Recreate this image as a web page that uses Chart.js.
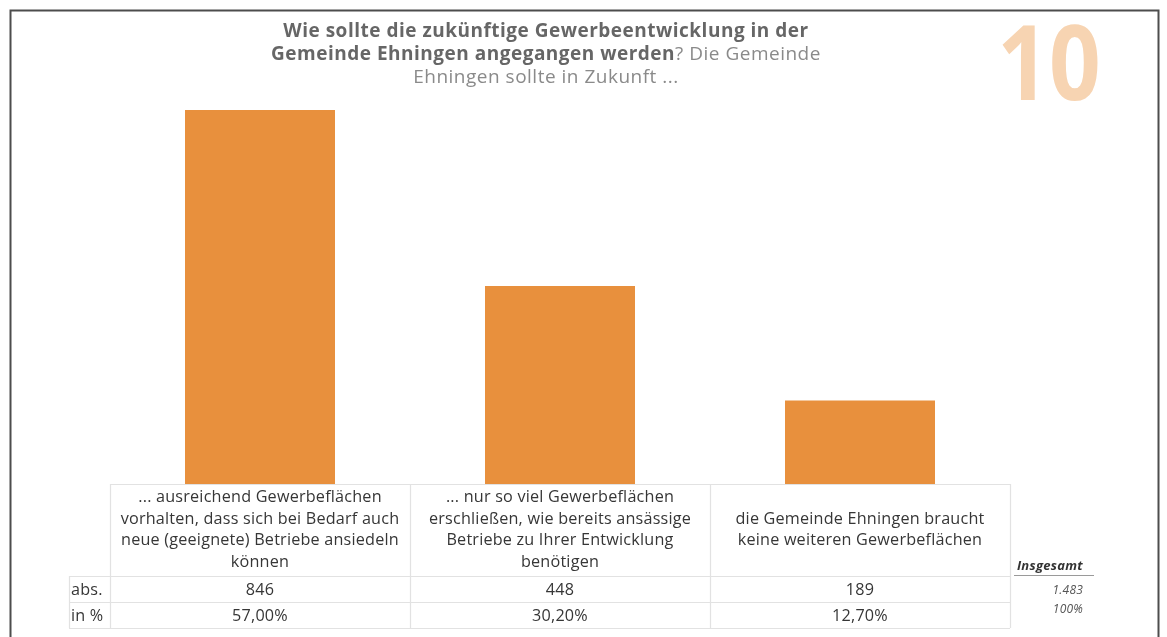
<!DOCTYPE html>
<html>
<head>
<meta charset="utf-8">
<script src="https://cdn.jsdelivr.net/npm/chart.js@4/dist/chart.umd.min.js"></script>
<style>
html,body{margin:0;padding:0;background:#fff;}
#wrap{position:relative;width:1167px;height:637px;}
</style>
</head>
<body>
<div id="wrap"><canvas id="c"></canvas></div>
<script>
const categories = [
  ['... ausreichend Gewerbeflächen', 'vorhalten, dass sich bei Bedarf auch', 'neue (geeignete) Betriebe ansiedeln', 'können'],
  ['... nur so viel Gewerbeflächen', 'erschließen, wie bereits ansässige', 'Betriebe zu Ihrer Entwicklung', 'benötigen'],
  ['die Gemeinde Ehningen braucht', 'keine weiteren Gewerbeflächen']
];
const absValues = [846, 448, 189];
const pctLabels = ['57,00%', '30,20%', '12,70%'];
const rowLabels = ['abs.', 'in %'];
const totalLabel = 'Insgesamt';
const totalAbs = '1.483';
const totalPct = '100%';
const titleBold1 = 'Wie sollte die zukünftige Gewerbeentwicklung in der';
const titleBold2 = 'Gemeinde Ehningen angegangen werden';
const titleReg2 = '? Die Gemeinde';
const titleReg3 = 'Ehningen sollte in Zukunft ...';
const badge = '10';

const FONT = '"Open Sans"';

function setSpacing(ctx, px) {
  if ('letterSpacing' in ctx) ctx.letterSpacing = px + 'px';
}

const tablePlugin = {
  id: 'tablePlugin',
  afterDraw(chart) {
    const ctx = chart.ctx;
    const xs = chart.scales.x;
    const area = chart.chartArea;
    const n = categories.length;
    const colW = (area.right - area.left) / n;
    const top = area.bottom;
    const hdrBottom = top + 92;
    const row1 = hdrBottom + 26;
    const row2 = row1 + 26;
    const labelLeft = 69;
    ctx.save();
    // outer frame
    ctx.strokeStyle = '#4d4d4d';
    ctx.lineWidth = 2;
    ctx.strokeRect(10.5, 10.5, 1148, 700);
    // grid
    ctx.strokeStyle = '#e2e2e2';
    ctx.lineWidth = 1.2;
    ctx.beginPath();
    ctx.moveTo(area.left, top + 0.5); ctx.lineTo(area.right, top + 0.5);
    [hdrBottom, row1, row2].forEach(y => { ctx.moveTo(labelLeft, y + 0.5); ctx.lineTo(area.right, y + 0.5); });
    ctx.moveTo(labelLeft + 0.5, hdrBottom); ctx.lineTo(labelLeft + 0.5, row2);
    for (let i = 0; i <= n; i++) {
      const x = Math.round(area.left + i * colW) + 0.5;
      ctx.moveTo(x, top); ctx.lineTo(x, row2);
    }
    ctx.stroke();
    // header text
    ctx.fillStyle = '#363636';
    ctx.textAlign = 'center';
    ctx.textBaseline = 'middle';
    ctx.font = '16.2px ' + FONT;
    setSpacing(ctx, 0.2);
    const lh = 21.5;
    const midY = (top + hdrBottom) / 2;
    categories.forEach((lines, i) => {
      const cx = xs.getPixelForValue(i);
      const y0 = midY - (lines.length - 1) * lh / 2;
      lines.forEach((t, k) => ctx.fillText(t, cx, y0 + k * lh));
      ctx.fillText(String(absValues[i]), cx, (hdrBottom + row1) / 2 + 1);
      ctx.fillText(pctLabels[i], cx, (row1 + row2) / 2 + 1);
    });
    ctx.textAlign = 'left';
    ctx.fillText(rowLabels[0], 71, (hdrBottom + row1) / 2 + 1);
    ctx.fillText(rowLabels[1], 71, (row1 + row2) / 2 + 1);
    // totals
    ctx.fillStyle = '#333333';
    ctx.font = 'italic bold 13px ' + FONT;
    setSpacing(ctx, 0.3);
    ctx.textAlign = 'right';
    ctx.textBaseline = 'alphabetic';
    ctx.fillText(totalLabel, 1083, 570);
    ctx.strokeStyle = '#9a9a9a';
    ctx.lineWidth = 1;
    ctx.beginPath(); ctx.moveTo(1014, 575.5); ctx.lineTo(1094, 575.5); ctx.stroke();
    ctx.fillStyle = '#555555';
    ctx.font = 'italic 12px ' + FONT;
    setSpacing(ctx, 0.2);
    ctx.fillText(totalAbs, 1083, 594);
    ctx.fillText(totalPct, 1083, 613);
    // title
    const tcx = 546;
    ctx.textAlign = 'left';
    ctx.fillStyle = '#666666';
    setSpacing(ctx, 0.5);
    ctx.font = 'bold 19px ' + FONT;
    let w = ctx.measureText(titleBold1).width;
    ctx.fillText(titleBold1, tcx - w / 2, 37);
    const wb2 = ctx.measureText(titleBold2).width;
    ctx.font = '19px ' + FONT;
    const wr2 = ctx.measureText(titleReg2).width;
    let x2 = tcx - (wb2 + wr2) / 2;
    ctx.font = 'bold 19px ' + FONT;
    ctx.fillText(titleBold2, x2, 60);
    ctx.font = '19px ' + FONT;
    ctx.fillStyle = '#8a8a8a';
    ctx.fillText(titleReg2, x2 + wb2, 60);
    w = ctx.measureText(titleReg3).width;
    ctx.fillText(titleReg3, tcx - w / 2, 83);
    // badge
    setSpacing(ctx, 0);
    ctx.fillStyle = '#F7D4B2';
    ctx.font = 'bold 104px ' + FONT;
    ctx.textAlign = 'center';
    ctx.translate(1049, 100);
    ctx.scale(0.87, 1);
    ctx.fillText(badge, 0, 0);
    ctx.restore();
  }
};

new Chart(document.getElementById('c'), {
  type: 'bar',
  data: {
    labels: categories,
    datasets: [{
      data: absValues,
      backgroundColor: '#E8903D',
      borderWidth: 0,
      barPercentage: 0.5,
      categoryPercentage: 1.0
    }]
  },
  options: {
    responsive: true,
    maintainAspectRatio: false,
    animation: false,
    devicePixelRatio: 1,
    layout: { padding: { left: 110, right: 157, top: 86, bottom: 153 } },
    plugins: { legend: { display: false }, tooltip: { enabled: false }, title: { display: false } },
    scales: {
      x: { display: false },
      y: { display: false, min: 0, max: 900 }
    }
  },
  plugins: [tablePlugin]
});
</script>
</body>
</html>
